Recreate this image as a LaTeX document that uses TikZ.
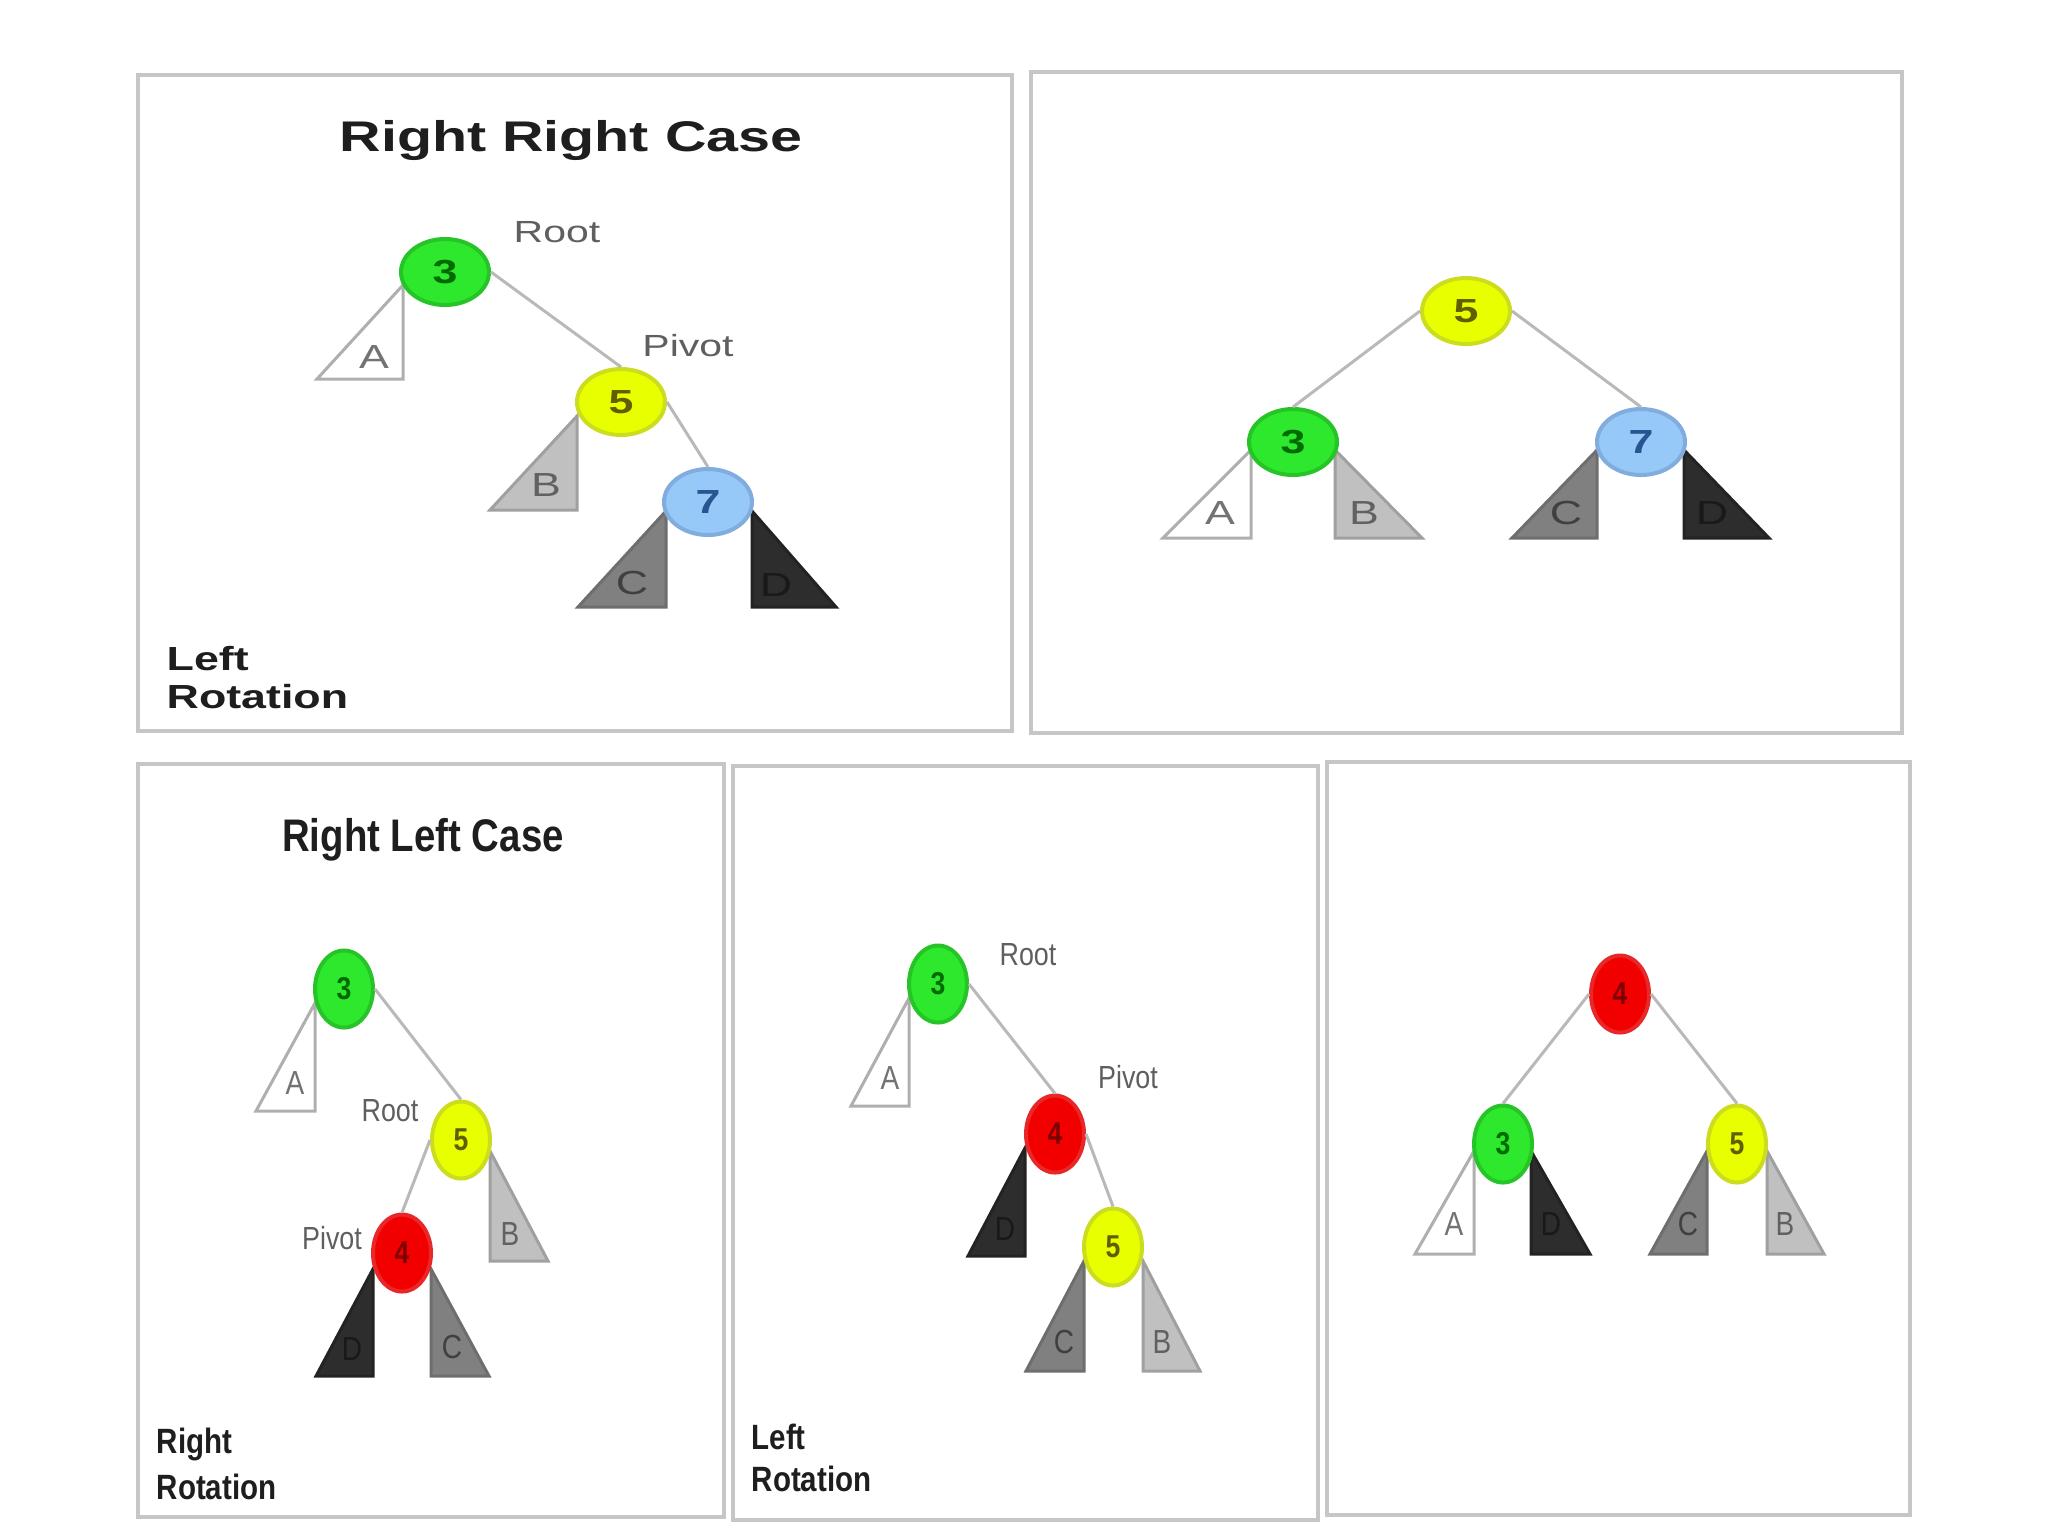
\documentclass[tikz,border=0pt]{standalone}
\usepackage{fontspec}
\setmainfont{Liberation Sans}
\newfontfamily\widesans[FakeStretch=1.34]{Liberation Sans}
\newfontfamily\narrowsans[FakeStretch=0.84]{Liberation Sans}
\usepackage{xcolor}
\usepackage{tikz}
\usetikzlibrary{shapes.geometric}
\definecolor{framegray}{RGB}{198,198,198}
\definecolor{linkgray}{RGB}{185,185,185}
\definecolor{inkdark}{RGB}{30,30,30}
\definecolor{taggray}{RGB}{95,95,95}
\definecolor{keygreen}{RGB}{46,232,46}
\definecolor{keygreenrim}{RGB}{38,196,38}
\definecolor{keygreentext}{RGB}{0,105,0}
\definecolor{keyyellow}{RGB}{232,255,0}
\definecolor{keyyellowrim}{RGB}{204,220,30}
\definecolor{keyyellowtext}{RGB}{95,95,0}
\definecolor{keyblue}{RGB}{150,200,248}
\definecolor{keybluerim}{RGB}{128,172,222}
\definecolor{keybluetext}{RGB}{40,85,145}
\definecolor{keyred}{RGB}{242,0,0}
\definecolor{keyredrim}{RGB}{232,40,40}
\definecolor{keyredtext}{RGB}{125,0,0}
\definecolor{subArim}{RGB}{175,175,175}
\definecolor{subBfill}{RGB}{192,192,192}
\definecolor{subBrim}{RGB}{160,160,160}
\definecolor{subCfill}{RGB}{128,128,128}
\definecolor{subCrim}{RGB}{110,110,110}
\definecolor{subDfill}{RGB}{45,45,45}
\definecolor{subDrim}{RGB}{35,35,35}

\begin{document}
\begin{tikzpicture}[x=0.1mm, y=-0.1mm,
    panel/.style={draw=framegray, line width=0.45mm},
    link/.style={draw=linkgray, line width=0.3mm},
    keywide/.style={ellipse, minimum width=8.8mm, minimum height=6.6mm, inner sep=0pt, line width=0.4mm, font=\widesans\fontsize{9.5}{10}\selectfont\bfseries},
    keynarrow/.style={ellipse, minimum width=5.8mm, minimum height=7.7mm, inner sep=0pt, line width=0.4mm, font=\narrowsans\fontsize{9}{10}\selectfont\bfseries},
    kgreen/.style={fill=keygreen, draw=keygreenrim, text=keygreentext},
    kyellow/.style={fill=keyyellow, draw=keyyellowrim, text=keyyellowtext},
    kblue/.style={fill=keyblue, draw=keybluerim, text=keybluetext},
    kred/.style={fill=keyred, draw=keyredrim, text=keyredtext},
    sub/.style={line width=0.3mm, line join=miter},
    subA/.style={sub, fill=white, draw=subArim},
    subB/.style={sub, fill=subBfill, draw=subBrim},
    subC/.style={sub, fill=subCfill, draw=subCrim},
    subD/.style={sub, fill=subDfill, draw=subDrim},
    leafwide/.style={inner sep=0pt, font=\widesans\fontsize{9.5}{10}\selectfont},
    leafnarrow/.style={inner sep=0pt, font=\narrowsans\fontsize{9.5}{10}\selectfont},
    letA/.style={text=black!55},
    letB/.style={text=black!62},
    letC/.style={text=black!75},
    letD/.style={text=black!90},
    tagwide/.style={inner sep=0pt, text=taggray, font=\widesans\fontsize{8.7}{10}\selectfont},
    tagnarrow/.style={inner sep=0pt, text=taggray, font=\narrowsans\fontsize{9.1}{10}\selectfont},
    casewide/.style={inner sep=0pt, text=inkdark, font=\widesans\fontsize{12.2}{14}\selectfont\bfseries},
    casenarrow/.style={inner sep=0pt, text=inkdark, font=\narrowsans\fontsize{13}{15}\selectfont\bfseries},
    rotwide/.style={anchor=west, inner sep=0pt, text=inkdark, font=\widesans\fontsize{9.5}{11}\selectfont\bfseries},
    rotnarrow/.style={anchor=west, inner sep=0pt, text=inkdark, font=\narrowsans\fontsize{10}{11}\selectfont\bfseries}
  ]
  \useasboundingbox (0,0) rectangle (2048,1536);

  % panels
  \draw[panel] (138,75) rectangle (1012,731);
  \draw[panel] (1031,72) rectangle (1902,733);
  \draw[panel] (138,764) rectangle (724,1517);
  \draw[panel] (733,766) rectangle (1318,1520);
  \draw[panel] (1327,762) rectangle (1910,1515);

  % right right case, before
  \node[casewide] (rrtitle) at (571,140) {Right Right Case};
  \draw[subA] (403,285) -- (403,379) -- (317,379) -- cycle;
  \draw[subB] (577,416) -- (577,510) -- (490,510) -- cycle;
  \draw[subC] (666,511) -- (666,607) -- (578,607) -- cycle;
  \draw[subD] (752,511) -- (752,607) -- (836,607) -- cycle;
  \node[leafwide, letA] (rrA) at (374,357) {A};
  \node[leafwide, letB] (rrB) at (546,485) {B};
  \node[leafwide, letC] (rrC) at (632,583) {C};
  \node[leafwide, letD] (rrD) at (776,585) {D};
  \node[keywide, kgreen] (rr3) at (445,272) {3};
  \node[keywide, kyellow] (rr5) at (621,402) {5};
  \node[keywide, kblue] (rr7) at (708,502) {7};
  \draw[link] (rr3.east) -- (rr5.north);
  \draw[link] (rr5.east) -- (rr7.north);
  \node[tagwide] (rrroot) at (557,232) {Root};
  \node[tagwide] (rrpivot) at (688,346) {Pivot};
  \node[rotwide] (rrleft) at (166,659) {Left};
  \node[rotwide] (rrrot) at (166,697) {Rotation};

  % right right case, after
  \draw[subA] (1251,450) -- (1251,538) -- (1163,538) -- cycle;
  \draw[subB] (1335,450) -- (1335,538) -- (1422,538) -- cycle;
  \draw[subC] (1597,450) -- (1597,538) -- (1512,538) -- cycle;
  \draw[subD] (1684,450) -- (1684,538) -- (1769,538) -- cycle;
  \node[leafwide, letA] (raA) at (1220,513) {A};
  \node[leafwide, letB] (raB) at (1364,513) {B};
  \node[leafwide, letC] (raC) at (1566,513) {C};
  \node[leafwide, letD] (raD) at (1712,513) {D};
  \node[keywide, kyellow] (ra5) at (1466,311) {5};
  \node[keywide, kgreen] (ra3) at (1293,442) {3};
  \node[keywide, kblue] (ra7) at (1641,442) {7};
  \draw[link] (ra5.west) -- (ra3.north);
  \draw[link] (ra5.east) -- (ra7.north);

  % right left case
  \node[casenarrow] (rltitle) at (423,840) {Right Left Case};
  \draw[subA] (315,1003) -- (315,1111) -- (256,1111) -- cycle;
  \draw[subB] (490,1151) -- (490,1261) -- (548,1261) -- cycle;
  \draw[subD] (373,1269) -- (373,1376) -- (316,1376) -- cycle;
  \draw[subC] (431,1269) -- (431,1376) -- (489,1376) -- cycle;
  \node[leafnarrow, letA] (rlA) at (295,1083) {A};
  \node[leafnarrow, letB] (rlB) at (510,1234) {B};
  \node[leafnarrow, letD] (rlD) at (352,1349) {D};
  \node[leafnarrow, letC] (rlC) at (452,1347) {C};
  \node[keynarrow, kgreen] (rl3) at (344,989) {3};
  \node[keynarrow, kyellow] (rl5) at (461,1140) {5};
  \node[keynarrow, kred] (rl4) at (402,1253) {4};
  \draw[link] (rl3.east) -- (rl5.north);
  \draw[link] (rl5.west) -- (rl4.north);
  \node[tagnarrow] (rlroot) at (390,1111) {Root};
  \node[tagnarrow] (rlpivot) at (332,1238) {Pivot};
  \node[rotnarrow] (rlright) at (156,1444) {Right};
  \node[rotnarrow] (rlrot) at (156,1487) {Rotation};

  % right left case, after right rotation
  \draw[subA] (909,998) -- (909,1106) -- (851,1106) -- cycle;
  \draw[subD] (1025,1148) -- (1025,1256) -- (968,1256) -- cycle;
  \draw[subC] (1084,1261) -- (1084,1371) -- (1026,1371) -- cycle;
  \draw[subB] (1143,1261) -- (1143,1371) -- (1200,1371) -- cycle;
  \node[leafnarrow, letA] (mdA) at (890,1078) {A};
  \node[leafnarrow, letD] (mdD) at (1005,1229) {D};
  \node[leafnarrow, letC] (mdC) at (1064,1342) {C};
  \node[leafnarrow, letB] (mdB) at (1162,1342) {B};
  \node[keynarrow, kgreen] (md3) at (938,984) {3};
  \node[keynarrow, kred] (md4) at (1055,1134) {4};
  \node[keynarrow, kyellow] (md5) at (1113,1247) {5};
  \draw[link] (md3.east) -- (md4.north);
  \draw[link] (md4.east) -- (md5.north);
  \node[tagnarrow] (mdroot) at (1028,955) {Root};
  \node[tagnarrow] (mdpivot) at (1128,1077) {Pivot};
  \node[rotnarrow] (mdleft) at (751,1437) {Left};
  \node[rotnarrow] (mdrot) at (751,1479) {Rotation};

  % right left case, balanced
  \draw[subA] (1474,1151) -- (1474,1254) -- (1415,1254) -- cycle;
  \draw[subD] (1531,1151) -- (1531,1254) -- (1590,1254) -- cycle;
  \draw[subC] (1707,1151) -- (1707,1254) -- (1650,1254) -- cycle;
  \draw[subB] (1767,1151) -- (1767,1254) -- (1824,1254) -- cycle;
  \node[leafnarrow, letA] (lbA) at (1454,1224) {A};
  \node[leafnarrow, letD] (lbD) at (1551,1224) {D};
  \node[leafnarrow, letC] (lbC) at (1688,1224) {C};
  \node[leafnarrow, letB] (lbB) at (1785,1224) {B};
  \node[keynarrow, kred] (lb4) at (1620,994) {4};
  \node[keynarrow, kgreen] (lb3) at (1503,1144) {3};
  \node[keynarrow, kyellow] (lb5) at (1737,1144) {5};
  \draw[link] (lb4.west) -- (lb3.north);
  \draw[link] (lb4.east) -- (lb5.north);
\end{tikzpicture}
\end{document}
